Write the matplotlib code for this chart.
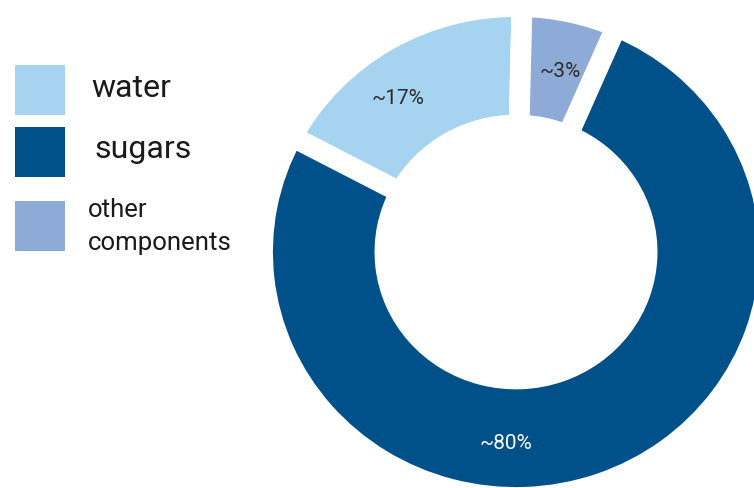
import matplotlib
matplotlib.use("Agg")
import matplotlib.pyplot as plt
import numpy as np
from matplotlib.patches import Rectangle

# ---------------------------------------------------------------------------
# Data (shares as drawn, label text as printed on the chart)
# ---------------------------------------------------------------------------
NAMES = ["water", "other components", "sugars"]
SHARES = [17.6, 6.1, 76.3]          # drawn proportions, clockwise from 152 deg
PCT_LABELS = ["~17%", "~3%", "~80%"]
LEGEND_ORDER = ["water", "sugars", "other components"]

COLORS = {
    "water": "#a6d4f0",
    "sugars": "#00508a",
    "other components": "#8eaad6",
}
LABEL_COLORS = ["#2b2b2b", "#2b2b2b", "#ffffff"]

plt.rcParams["font.family"] = ["Roboto", "DejaVu Sans"]

W, H = 754, 488
fig = plt.figure(figsize=(W / 100, H / 100), dpi=100)
ax = fig.add_axes([0, 0, 1, 1])

GAP = 15  # white separator, points

ax.pie(
    SHARES,
    colors=[COLORS[n] for n in NAMES],
    startangle=152,
    counterclock=False,
    radius=1.0,
    wedgeprops=dict(width=0.483, edgecolor="white", linewidth=GAP,
                    joinstyle="miter"),
)
ax.set_aspect("auto")

# slightly squashed donut, cropped at right and bottom
cx, cy = 516, 252
sx, sy = 253.5, 245.5
ax.set_xlim(-cx / sx, (W - cx) / sx)
ax.set_ylim(-(H - cy) / sy, cy / sy)
ax.axis("off")

# percentage labels (polar position: radius, angle in degrees)
label_pos = [(0.78, 126.6), (0.755, 76.5), (0.78, -93.0)]
for txt, col, (r, a) in zip(PCT_LABELS, LABEL_COLORS, label_pos):
    t = np.deg2rad(a)
    ax.text(r * np.cos(t), r * np.sin(t), txt, color=col, fontsize=15,
            ha="center", va="center")


# ---------------------------------------------------------------------------
# Legend drawn by hand on the left
# ---------------------------------------------------------------------------
def fx(x):
    return x / W


def fy(y):
    return 1 - y / H


legend_boxes = {"water": 65, "sugars": 127, "other components": 201}
for name in LEGEND_ORDER:
    top = legend_boxes[name]
    fig.add_artist(Rectangle((fx(15), fy(top + 50)), 50 / W, 50 / H,
                             transform=fig.transFigure,
                             facecolor=COLORS[name], edgecolor="none"))

fig.text(fx(91), fy(97), "water", fontsize=23, color="#1a1a1a", va="baseline")
fig.text(fx(94), fy(158), "sugars", fontsize=23, color="#1a1a1a", va="baseline")
fig.text(fx(88), fy(217), "other", fontsize=18.5, color="#1a1a1a", va="baseline")
fig.text(fx(88), fy(250), "components", fontsize=18.5, color="#1a1a1a",
         va="baseline")

fig.savefig("out.png", dpi=100)
plt.close(fig)
